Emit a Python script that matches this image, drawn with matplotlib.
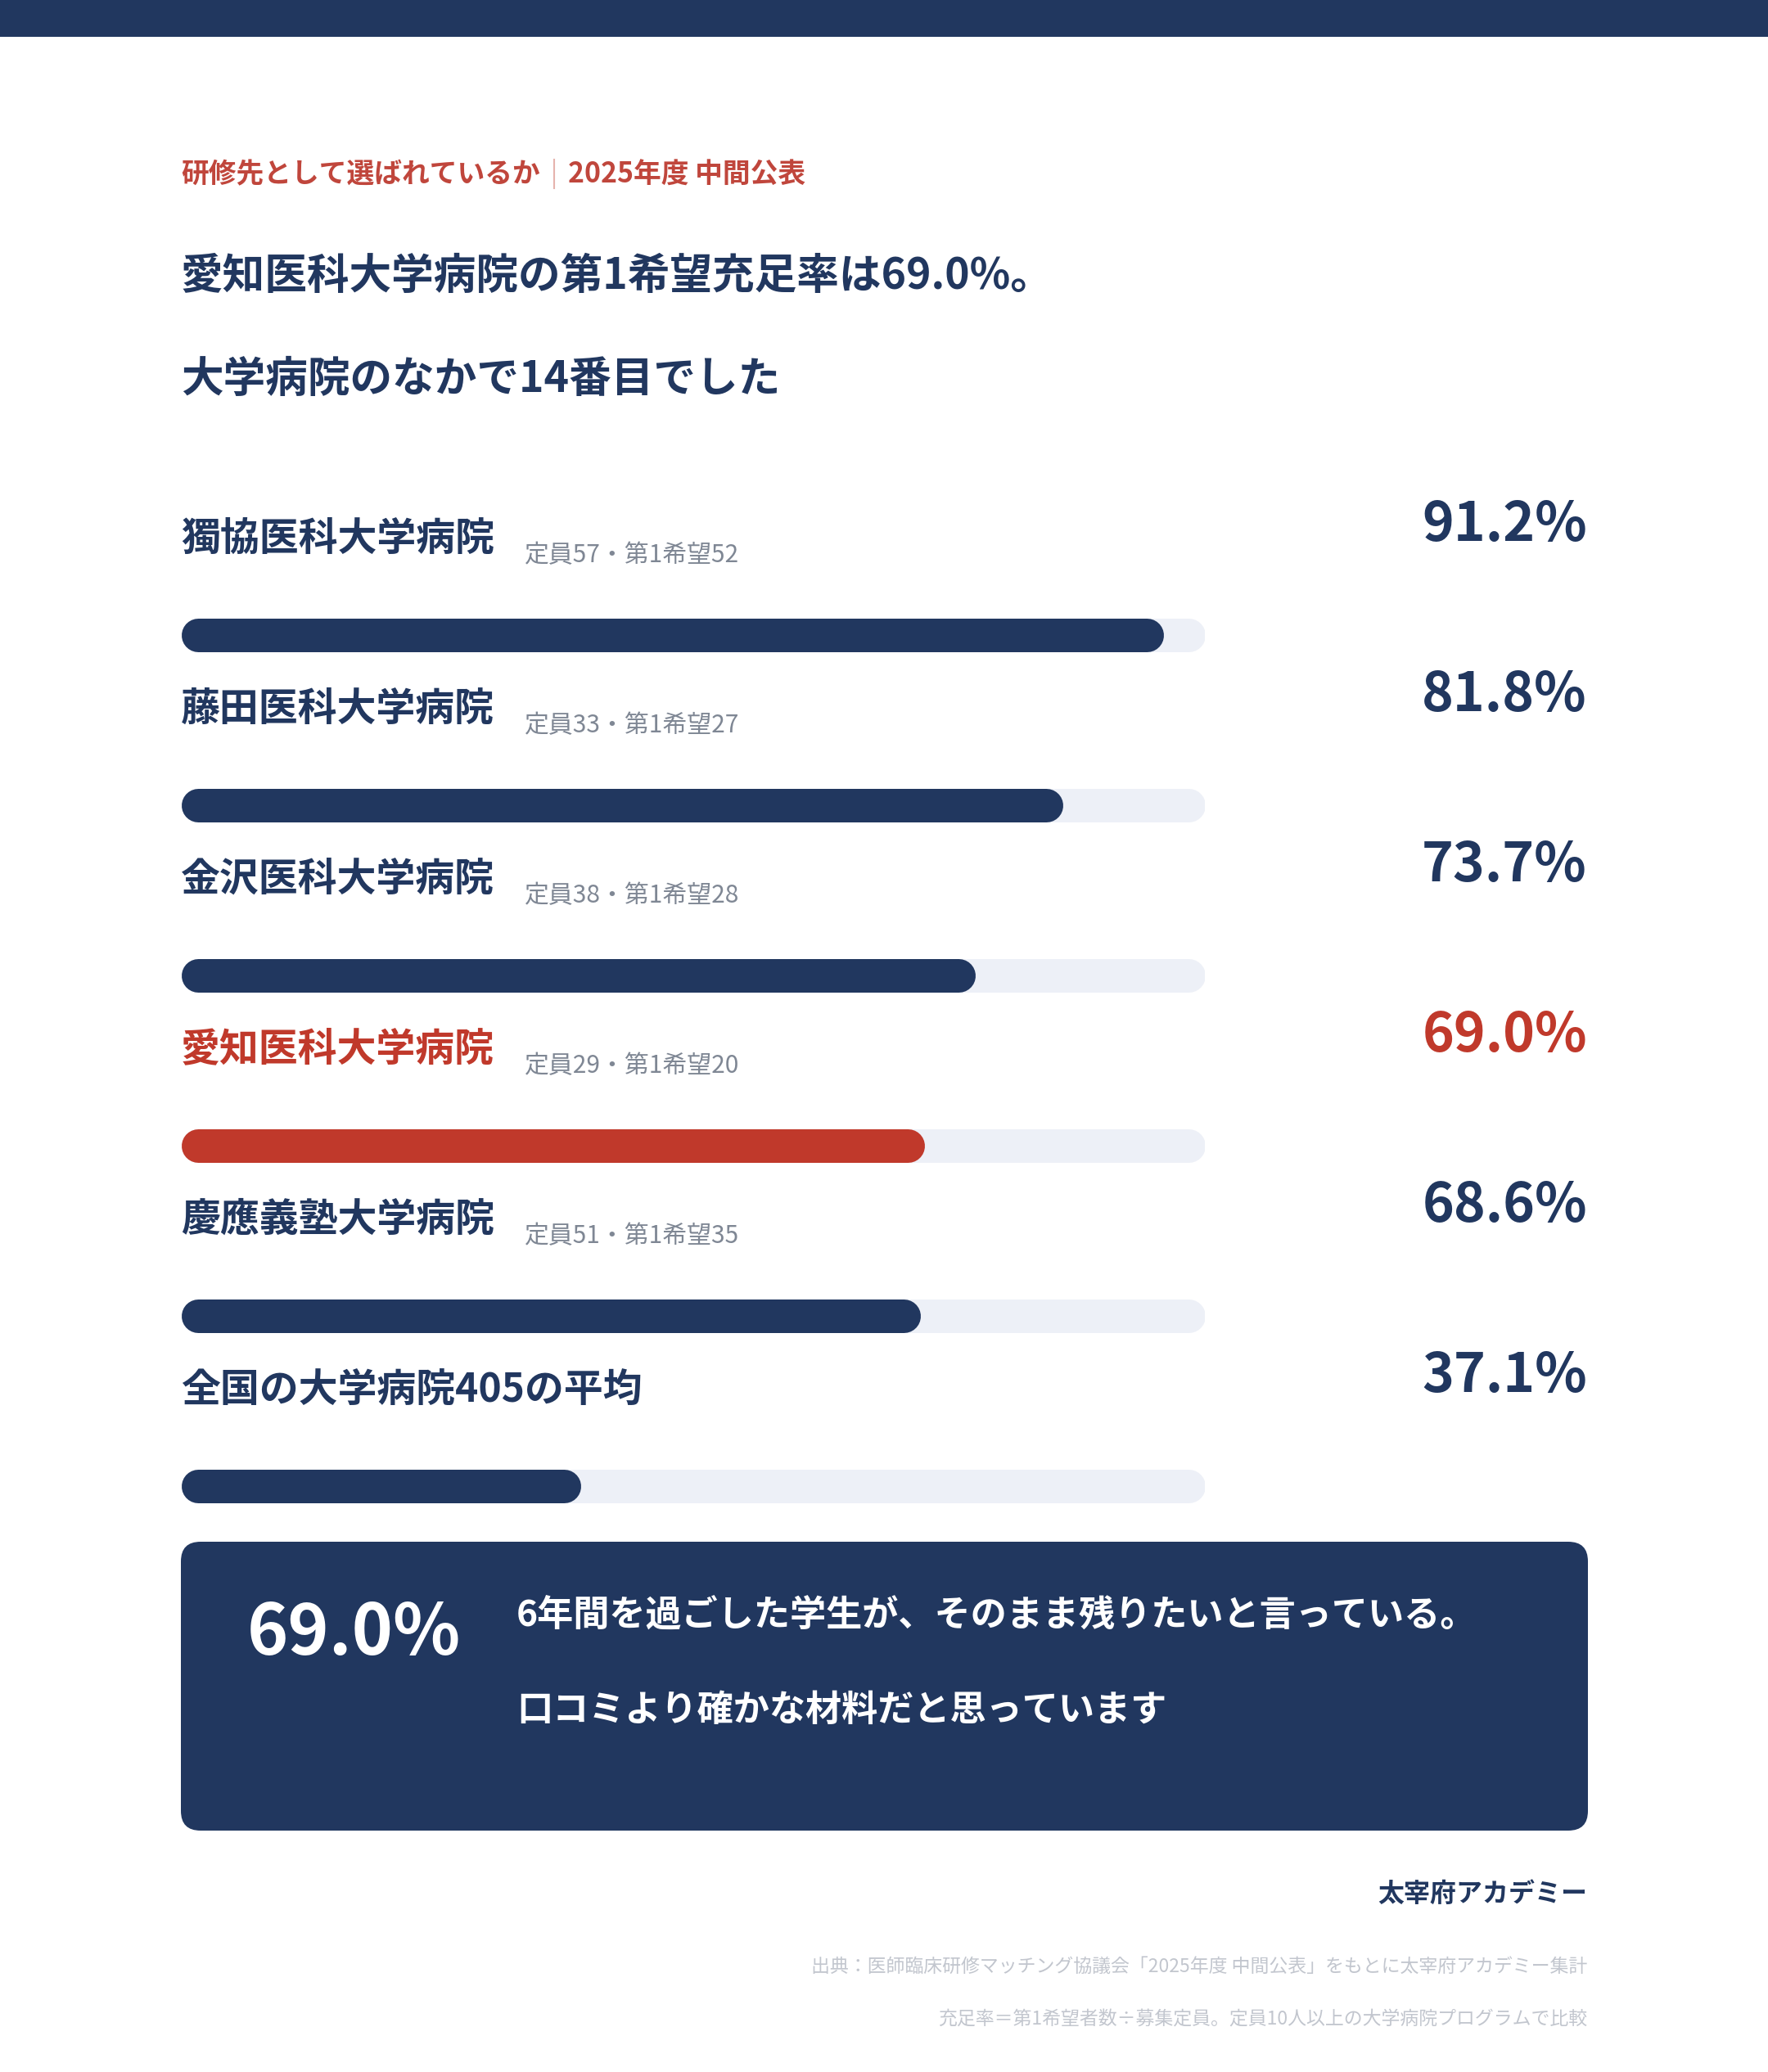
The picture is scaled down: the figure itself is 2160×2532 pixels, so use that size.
import matplotlib
matplotlib.use("Agg")
import matplotlib.pyplot as plt
from matplotlib.patches import FancyBboxPatch, Rectangle

plt.rcParams['font.family'] = ['Noto Sans CJK JP', 'DejaVu Sans']

# data
hospitals = ['獨協医科大学病院', '藤田医科大学病院', '金沢医科大学病院',
             '愛知医科大学病院', '慶應義塾大学病院', '全国の大学病院405の平均']
capacity = [57, 33, 38, 29, 51, None]
first_choice = [52, 27, 28, 20, 35, None]
fill_rate = [91.2, 81.8, 73.7, 69.0, 68.6, 37.1]
highlight = '愛知医科大学病院'
axis_max = 95

NAVY = '#21375f'
RED = '#c0392b'
TRACK = '#edf0f7'
GRAY = '#7f8794'
LIGHT = '#c2c6ce'

W, H = 2160, 2532
fig = plt.figure(figsize=(W / 100, H / 100), dpi=100)
fig.patch.set_facecolor('white')

# page axes in pixel units for layout
page = fig.add_axes([0, 0, 1, 1])
page.set_xlim(0, W)
page.set_ylim(H, 0)
page.axis('off')

page.add_patch(Rectangle((0, 0), W, 45, color=NAVY, lw=0))

# kicker line
k1 = page.text(221, 213, '研修先として選ばれているか', color='#c0463c', fontsize=24.3,
               fontweight='bold', va='center', ha='left')
fig.canvas.draw()
r = fig.canvas.get_renderer()
bb = k1.get_window_extent(r)
sep_x = bb.x1 + 17
page.plot([sep_x, sep_x], [195, 230], color='#e6b3ad', lw=1.5)
page.text(sep_x + 17, 213, '2025年度 中間公表', color='#c0463c', fontsize=24.3,
          fontweight='bold', va='center', ha='left')

page.text(221, 338, '愛知医科大学病院の第1希望充足率は69.0%。', color=NAVY, fontsize=37.2,
          fontweight='bold', va='center', ha='left')
page.text(221, 464, '大学病院のなかで14番目でした', color=NAVY, fontsize=37.2,
          fontweight='bold', va='center', ha='left')

# bar axes
top_px, row_h = 776, 208
n = len(hospitals)
y0 = top_px - row_h / 2
y1 = top_px + (n - 1) * row_h + row_h / 2
left_px, right_px = 221, 1472
bars = fig.add_axes([left_px / W, 1 - y1 / H, (right_px - left_px) / W, (y1 - y0) / H])
bars.set_xlim(0, axis_max)
bars.set_ylim(n - 0.5, -0.5)
bars.axis('off')

bar_px = 41
lw_pt = bar_px * 0.72
rad = (bar_px / 2) * axis_max / (right_px - left_px)

for i, (name, cap, fc, v) in enumerate(zip(hospitals, capacity, first_choice, fill_rate)):
    col = RED if name == highlight else NAVY
    bars.plot([rad, axis_max - rad], [i, i], color=TRACK, lw=lw_pt,
              solid_capstyle='round')
    bars.plot([rad, v - rad], [i, i], color=col, lw=lw_pt, solid_capstyle='round')
    bars.annotate(name, (0, i), xytext=(0, 118), textcoords='offset pixels',
                  color=col, fontsize=34.5, fontweight='bold', va='center', ha='left')
    if cap is not None:
        bars.annotate(f'定員{cap}・第1希望{fc}', (0, i), xytext=(420, 97),
                      textcoords='offset pixels', color=GRAY, fontsize=21.5,
                      va='center', ha='left')
    bars.annotate(f'{v:.1f}%', (0, i), xytext=(1939 - left_px, 135),
                  textcoords='offset pixels', color=col, fontsize=47.5,
                  fontweight='bold', va='center', ha='right')

# summary box
box = FancyBboxPatch((221, 1884), 1940 - 221, 2237 - 1884,
                     boxstyle='round,pad=0,rounding_size=24', fc=NAVY, ec='none')
page.add_patch(box)
page.text(302, 1997, f'{fill_rate[3]:.1f}%', color='white', fontsize=61.5,
          fontweight='bold', va='center', ha='left')
page.text(631, 1974, '6年間を過ごした学生が、そのまま残りたいと言っている。', color='white',
          fontsize=31.8, fontweight='bold', va='center', ha='left')
page.text(631, 2090, '口コミより確かな材料だと思っています', color='white',
          fontsize=31.8, fontweight='bold', va='center', ha='left')

page.text(1939, 2315, '太宰府アカデミー', color=NAVY, fontsize=23,
          fontweight='bold', va='center', ha='right')
page.text(1939, 2403, '出典：医師臨床研修マッチング協議会「2025年度 中間公表」をもとに太宰府アカデミー集計',
          color=LIGHT, fontsize=16.5, va='center', ha='right')
page.text(1939, 2467, '充足率＝第1希望者数÷募集定員。定員10人以上の大学病院プログラムで比較',
          color=LIGHT, fontsize=16.5, va='center', ha='right')

fig.savefig('out.png', dpi=100, facecolor='white')
